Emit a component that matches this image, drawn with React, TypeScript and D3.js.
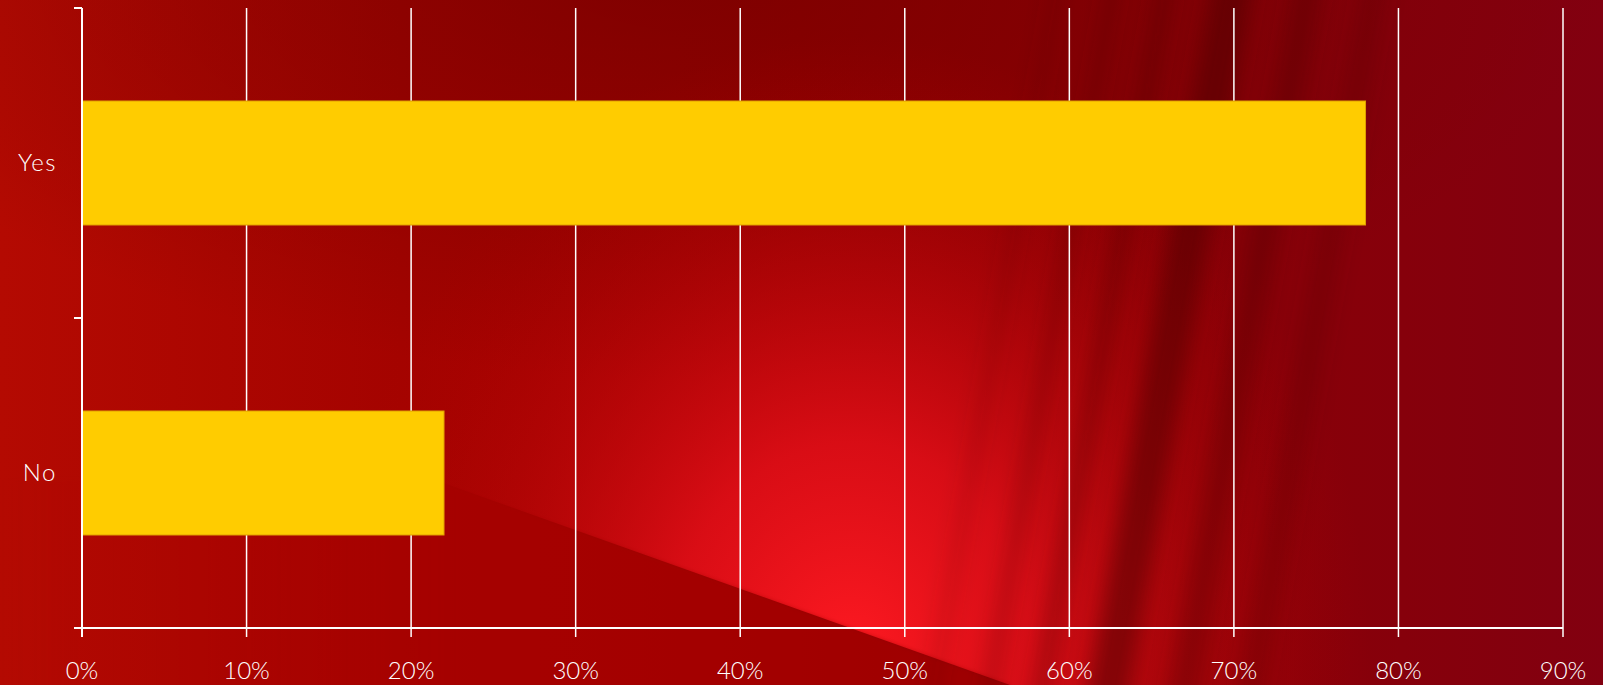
import React from "react";
import * as d3 from "d3";

const categories = ["Yes", "No"];
const values = [0.78, 0.22];
const tickValues = [0, 0.1, 0.2, 0.3, 0.4, 0.5, 0.6, 0.7, 0.8, 0.9];

const W = 1603;
const H = 685;
const left = 82;
const right = 1563;
const top = 8;
const bottom = 628;

export default function App() {
  const x = d3.scaleLinear().domain([0, 0.9]).range([left, right]);
  const y = d3
    .scaleBand<string>()
    .domain(categories)
    .range([top, bottom])
    .paddingInner(0.6)
    .paddingOuter(0.3);
  const fmt = d3.format(".0%");
  const step = y.step();
  const catTicks = [top, top + step, bottom];

  // streak rays on the right (slanting down-left toward the bright spot)
  const streaks = [
    { x: 1150, w: 40, o: 0.5 },
    { x: 1095, w: 16, o: 0.35 },
    { x: 1230, w: 30, o: 0.3 },
    { x: 1045, w: 12, o: 0.3 },
    { x: 1300, w: 24, o: 0.25 },
    { x: 990, w: 10, o: 0.2 },
  ];

  return (
    <svg
      width={W}
      height={H}
      style={{ position: "absolute", left: 0, top: 0, display: "block" }}
      fontFamily="Lato, 'Open Sans', sans-serif"
      fontWeight={300}
    >
      <defs>
        <linearGradient id="base" x1="0" y1="0" x2="1" y2="0">
          <stop offset="0" stopColor="#b40a02" />
          <stop offset="0.25" stopColor="#a40300" />
          <stop offset="0.5" stopColor="#9a0000" />
          <stop offset="0.75" stopColor="#8a0006" />
          <stop offset="1" stopColor="#820010" />
        </linearGradient>
        <radialGradient id="topdark" cx="700" cy="-40" r="700" gradientUnits="userSpaceOnUse" gradientTransform="translate(700 -40) scale(1.3 0.6) translate(-700 40)">
          <stop offset="0" stopColor="#6a0000" stopOpacity="0.6" />
          <stop offset="0.6" stopColor="#6a0000" stopOpacity="0.25" />
          <stop offset="1" stopColor="#6a0000" stopOpacity="0" />
        </radialGradient>
        <radialGradient id="bright" cx="850" cy="660" r="520" gradientUnits="userSpaceOnUse" gradientTransform="translate(850 660) scale(1 1.2) rotate(-20) translate(-850 -660)">
          <stop offset="0" stopColor="#ff1a22" stopOpacity="1" />
          <stop offset="0.35" stopColor="#e8101a" stopOpacity="0.8" />
          <stop offset="0.7" stopColor="#c8080c" stopOpacity="0.35" />
          <stop offset="1" stopColor="#b00000" stopOpacity="0" />
        </radialGradient>
        <linearGradient id="wedge" x1="0" y1="0" x2="460" y2="0" gradientUnits="userSpaceOnUse">
          <stop offset="0" stopColor="#a80800" stopOpacity="0" />
          <stop offset="1" stopColor="#a80800" stopOpacity="0.55" />
        </linearGradient>
        <clipPath id="aboveLine">
          <polygon points="-20,-20 1623,-20 1623,705 1010,705 1010,685 435,480 -20,480" />
        </clipPath>
        <filter id="blur" x="-50%" y="-50%" width="200%" height="200%">
          <feGaussianBlur stdDeviation="10" />
        </filter>
        <filter id="blur2" x="-50%" y="-50%" width="200%" height="200%">
          <feGaussianBlur stdDeviation="2" />
        </filter>
      </defs>

      {/* background */}
      <rect x={0} y={0} width={W} height={H} fill="url(#base)" />
      <rect x={0} y={0} width={W} height={H} fill="url(#topdark)" />
      <g clipPath="url(#aboveLine)">
        <rect x={0} y={0} width={W} height={H} fill="url(#bright)" />
      </g>
      <polygon points="-20,480 435,480 1010,685 1010,710 -20,710" fill="url(#wedge)" filter="url(#blur2)" />
      <g filter="url(#blur)">
        {streaks.map((s, i) => (
          <rect
            key={i}
            x={s.x}
            y={-60}
            width={s.w}
            height={820}
            fill="#4a0000"
            opacity={s.o}
            transform={`rotate(10 ${s.x} 340)`}
          />
        ))}
      </g>

      {/* gridlines */}
      {tickValues.slice(1).map((t) => (
        <line key={t} x1={x(t)} x2={x(t)} y1={top} y2={bottom + 9} stroke="#ffffff" strokeWidth={1.5} />
      ))}

      {/* bars */}
      {categories.map((c, i) => (
        <rect
          key={c}
          x={x(0)}
          y={y(c)}
          width={x(values[i]) - x(0)}
          height={y.bandwidth()}
          fill="#ffcc00"
          stroke="#e0a000"
          strokeWidth={1}
        />
      ))}

      {/* axes */}
      <line x1={left} x2={left} y1={top} y2={bottom + 9} stroke="#ffffff" strokeWidth={2} />
      <line x1={left - 8} x2={right} y1={bottom} y2={bottom} stroke="#ffffff" strokeWidth={2} />
      {catTicks.map((t, i) => (
        <line key={i} x1={left - 8} x2={left} y1={t} y2={t} stroke="#ffffff" strokeWidth={2} />
      ))}

      {/* x tick labels */}
      {tickValues.map((t) => (
        <text key={t} x={x(t)} y={679} textAnchor="middle" fontSize={24} fill="#ffffff">
          {fmt(t)}
        </text>
      ))}

      {/* y labels */}
      {categories.map((c) => (
        <text
          key={c}
          x={57}
          y={(y(c) ?? 0) + y.bandwidth() / 2}
          dy="0.35em"
          textAnchor="end"
          fontSize={24}
          letterSpacing={1.5}
          fill="#ffffff"
        >
          {c}
        </text>
      ))}
    </svg>
  );
}
